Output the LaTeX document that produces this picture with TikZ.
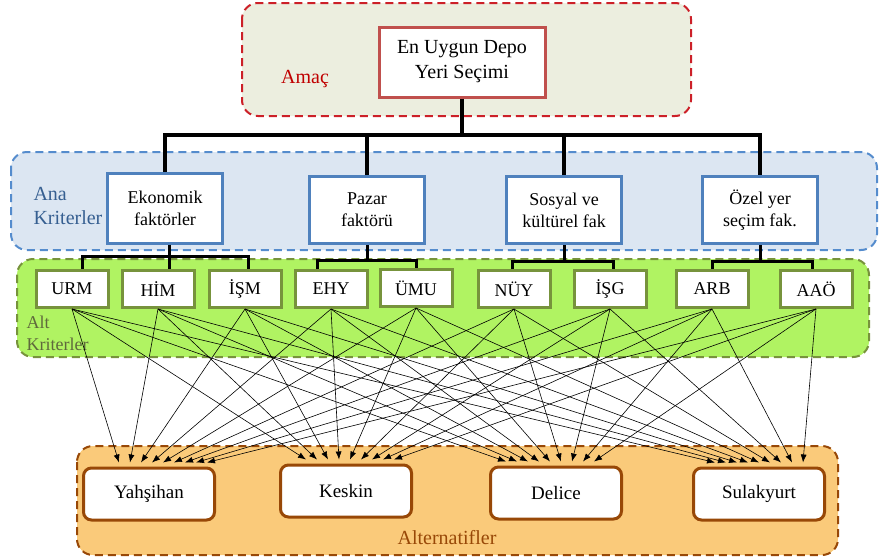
\documentclass[tikz,border=0pt]{standalone}
\usepackage{fontspec}
\setmainfont{Liberation Serif}
\usetikzlibrary{arrows.meta}

\definecolor{goalfill}{RGB}{236,238,223}
\definecolor{goaldash}{RGB}{204,32,40}
\definecolor{goalline}{RGB}{192,80,77}
\definecolor{amactext}{RGB}{192,0,0}
\definecolor{anafill}{RGB}{220,230,242}
\definecolor{anadash}{RGB}{85,140,205}
\definecolor{analine}{RGB}{79,129,189}
\definecolor{anatext}{RGB}{54,95,145}
\definecolor{altfill}{RGB}{176,243,98}
\definecolor{altline}{RGB}{119,147,60}
\definecolor{alttext}{RGB}{95,105,60}
\definecolor{optfill}{RGB}{250,202,122}
\definecolor{optline}{RGB}{152,72,7}

\begin{document}
\begin{tikzpicture}[
    x=1pt, y=-1pt,
    >={Latex[length=8pt, width=6pt]},
    region/.style={dash pattern=on 8pt off 5pt, line width=2pt, rounded corners=16pt},
    goalbox/.style={draw=goalline, fill=white, line width=3pt, minimum width=166pt, minimum height=70pt, align=center, font=\fontsize{20}{25}\selectfont},
    mainbox/.style={draw=analine, fill=white, line width=3pt, minimum width=115pt, minimum height=67pt, align=center, font=\fontsize{18}{22}\selectfont},
    subbox/.style={draw=altline, fill=white, line width=3pt, minimum width=72pt, minimum height=37pt, font=\fontsize{18}{22}\selectfont},
    optbox/.style={draw=optline, fill=white, line width=3pt, rounded corners=8pt, minimum width=131pt, minimum height=52pt, font=\fontsize{19}{23}\selectfont},
    tree/.style={line width=4pt},
    subtree/.style={line width=3pt},
    arr/.style={->, line width=0.6pt},
    label/.style={font=\fontsize{20}{24}\selectfont, align=left}
]
    \useasboundingbox (0,0) rectangle (879,560);

    % BACKGROUND REGIONS
    \draw[region, draw=goaldash, fill=goalfill] (242,3) rectangle (691,116);
    \draw[region, draw=anadash, fill=anafill] (11,152) rectangle (877,250);
    \draw[region, draw=altline, fill=altfill] (17,259) rectangle (869,357);
    \draw[region, draw=optline, fill=optfill] (77,446) rectangle (838,555);

    % REGION LABELS
    \node (lbl_amac) at (305,79) [label, text=amactext] {Amaç};
    \node (lbl_ana) at (30,206) [label, anchor=west, text=anatext] {Ana\\Kriterler};
    \node (lbl_alt) at (23,333) [label, anchor=west, text=alttext, font=\fontsize{18}{22}\selectfont] {Alt\\Kriterler};
    \node (lbl_opt) at (447,538) [label, text=optline] {Alternatifler};

    % GOAL
    \node (goal) at (462,62) [goalbox] {En Uygun Depo\\Yeri Seçimi};

    % MAIN CRITERIA
    \node (crit_eko) at (165,208) [mainbox, minimum height=70pt] {Ekonomik\\faktörler};
    \node (crit_pazar) at (367,210) [mainbox] {Pazar\\faktörü};
    \node (crit_sosyal) at (564,210) [mainbox] {Sosyal ve\\kültürel fak};
    \node (crit_ozel) at (760,210) [mainbox] {Özel yer\\seçim fak.};

    % SUB CRITERIA
    \node (sub_urm) at (72,289) [subbox] {URM};
    \node (sub_him) at (158,289) [subbox] {HİM};
    \node (sub_ism) at (245,289) [subbox] {İŞM};
    \node (sub_ehy) at (331,289) [subbox] {EHY};
    \node (sub_umu) at (416,288) [subbox] {ÜMU};
    \node (sub_nuy) at (514,289) [subbox] {NÜY};
    \node (sub_isg) at (610,289) [subbox] {İŞG};
    \node (sub_arb) at (712,289) [subbox] {ARB};
    \node (sub_aao) at (816,289) [subbox] {AAÖ};

    % ALTERNATIVES
    \node (opt_yah) at (149,494) [optbox] {Yahşihan};
    \node (opt_kes) at (346,491) [optbox] {Keskin};
    \node (opt_del) at (556,493) [optbox] {Delice};
    \node (opt_sul) at (759,494) [optbox] {Sulakyurt};

    % Goal to main criteria
    \draw[tree] (goal.south) -- ++(0,36) coordinate (top_bar);
    \draw[tree] (crit_eko.north) |- (top_bar) -| (crit_ozel.north);
    \draw[tree] (crit_pazar.north) -- (crit_pazar.north |- top_bar);
    \draw[tree] (crit_sosyal.north) -- (crit_sosyal.north |- top_bar);

    % Main criteria to sub criteria
    \draw[subtree] ([xshift=4pt]crit_eko.south) -- ++(0,12) coordinate (eko_bar);
    \draw[subtree] ([xshift=10pt]sub_urm.north) |- (eko_bar) -| ([xshift=3pt]sub_ism.north);
    \draw[subtree] (eko_bar) -- (eko_bar |- sub_him.north);
    \draw[subtree] (crit_pazar.south) -- ++(0,15) coordinate (pazar_bar);
    \draw[subtree] ([xshift=-14pt]sub_ehy.north) |- (pazar_bar) -| (sub_umu.north);
    \draw[subtree] (crit_sosyal.south) -- ++(0,16) coordinate (sosyal_bar);
    \draw[subtree] ([xshift=-2pt]sub_nuy.north) |- (sosyal_bar) -| ([xshift=3pt]sub_isg.north);
    \draw[subtree] (crit_ozel.south) -- ++(0,16) coordinate (ozel_bar);
    \draw[subtree] (sub_arb.north) |- (ozel_bar) -| ([xshift=-4pt]sub_aao.north);

    % Sub criteria to alternatives (each target has its own spread offset)
    \foreach \s [count=\i from 0] in {sub_urm,sub_him,sub_ism,sub_ehy,sub_umu,sub_nuy,sub_isg,sub_arb,sub_aao}
        \foreach \t/\d in {opt_yah/14,opt_kes/4,opt_del/-6,opt_sul/0}
            \draw[arr] (\s.south) -- ([xshift={\d-44+11*\i}, yshift=4pt]\t.north);
\end{tikzpicture}
\end{document}
